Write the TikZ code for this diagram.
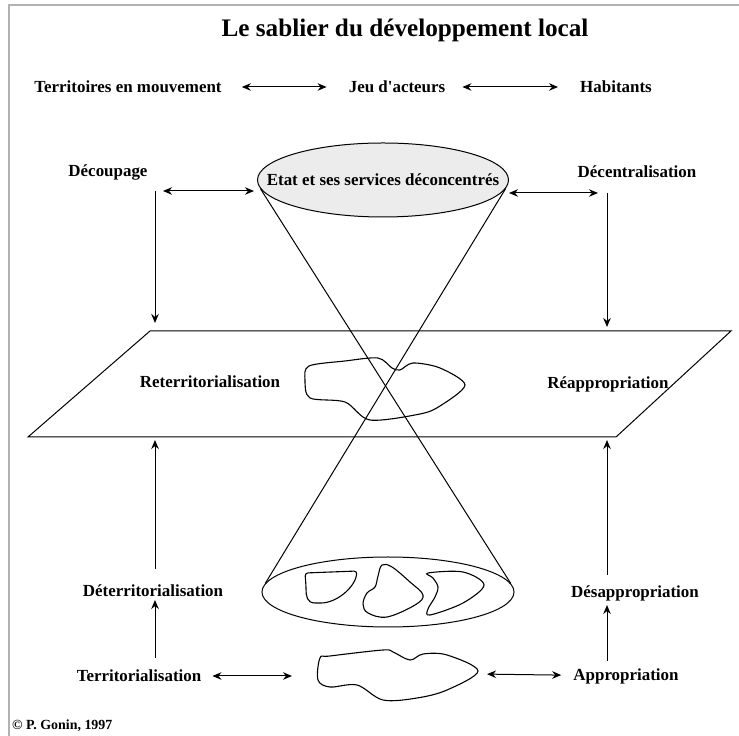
\documentclass[tikz,border=0pt]{standalone}
\usepackage{fontspec}
\setmainfont{Liberation Serif}
\usetikzlibrary{shapes.geometric,arrows.meta}

\begin{document}
\begin{tikzpicture}[lbl/.style={font=\bfseries\fontsize{17}{19}\selectfont,inner sep=2bp},
						arr/.style={-{Stealth[length=9bp,width=7.5bp]},line width=1bp},
						dbl/.style={{Stealth[length=9bp,width=7.5bp]}-{Stealth[length=9bp,width=7.5bp]},line width=1bp},
						blob/.style={line width=1.1bp}]

		\useasboundingbox (0bp,0bp) rectangle (739bp,736bp);
		\draw[gray!60,line width=2bp] (9bp,0bp) -- (9bp,731bp) -- (739bp,731bp);

		\node[font=\bfseries\fontsize{25.3}{29}\selectfont] (titre) at (405.0bp,706.0bp) {Le sablier du développement local};

		\node[lbl] (terr) at (128.0bp,649.0bp) {Territoires en mouvement};
		\node[lbl] (jeu) at (397.0bp,649.0bp) {Jeu d\textquotesingle acteurs};
		\node[lbl] (hab) at (616.0bp,649.0bp) {Habitants};

		\node[lbl] (dec) at (108.0bp,564.0bp) {Découpage};
		\node[lbl] (decen) at (637.0bp,564.0bp) {Décentralisation};
		\node[ellipse,draw,line width=1bp,fill=gray!15,minimum width=251bp,minimum height=74bp,
			font=\bfseries\fontsize{17}{19}\selectfont,inner xsep=-30bp,inner ysep=0bp] (etat) at (383.0bp,556.0bp) {Etat et ses services déconcentrés};
		\coordinate (lcol) at (155.0bp,545.0bp);
		\coordinate (rcol) at (607.0bp,543.0bp);

		\coordinate (p1) at (150.0bp,405.0bp);
		\coordinate (p2) at (731.0bp,405.0bp);
		\coordinate (p3) at (616.0bp,299.0bp);
		\coordinate (p4) at (28.0bp,299.0bp);
		\draw[line width=1bp] (p1) -- (p2) -- (p3) -- (p4) -- cycle;
		\node[lbl] (reterr) at (210.0bp,354.0bp) {Reterritorialisation};
		\node[lbl] (reappr) at (608.0bp,352.0bp) {Réappropriation};

		\node[ellipse,draw,line width=1bp,minimum width=252bp,minimum height=70bp] (sol) at (388.0bp,144.0bp) {};

		\node[lbl] (deter) at (153.0bp,145.0bp) {Déterritorialisation};
		\node[lbl] (desappr) at (635.0bp,143.0bp) {Désappropriation};
		\node[lbl] (terri) at (139.0bp,60.0bp) {Territorialisation};
		\node[lbl] (appr) at (626.0bp,60.0bp) {Appropriation};
		\coordinate (blobw) at (318.0bp,60.0bp);
		\coordinate (blobe) at (478.0bp,62.0bp);

		\node[anchor=west,font=\bfseries\fontsize{14}{16}\selectfont,inner sep=0bp] (copy) at (12.0bp,10.0bp) {© P. Gonin, 1997};

		% territoires dans le plan et en bas
		\draw[blob] plot[smooth cycle,tension=0.5] coordinates {(305bp,356bp) (309bp,370bp) (345bp,375bp) (378bp,378bp) (392bp,368bp) (400bp,366bp) (413bp,373bp) (440bp,368bp) (465bp,351bp) (440bp,330bp) (420bp,322bp) (370bp,316bp) (345bp,334bp) (310bp,338bp)};
		\draw[blob,rounded corners=3bp] (305bp,163bp) -- (357bp,165bp) .. controls (355bp,148bp) and (336bp,133bp) .. (318bp,133bp) .. controls (307bp,133bp) and (306bp,140bp) .. (306bp,150bp) -- cycle;
		\draw[blob] plot[smooth cycle,tension=0.6] coordinates {(382bp,171bp) (392bp,169bp) (410bp,154bp) (423bp,141bp) (415bp,131bp) (387bp,119bp) (368bp,123bp) (363bp,132bp) (367bp,143bp) (375bp,149bp) (378bp,160bp)};
		\draw[blob] plot[smooth cycle,tension=0.55] coordinates {(428bp,163bp) (463bp,164bp) (484bp,151bp) (463bp,133bp) (430bp,121bp) (428bp,127bp) (435bp,139bp) (438bp,149bp) (433bp,158bp)};
		\draw[blob] plot[smooth cycle,tension=0.55] coordinates {(320bp,78bp) (330bp,80bp) (383bp,86bp) (393bp,84bp) (410bp,76bp) (423bp,82bp) (447bp,81bp) (478bp,65bp) (447bp,46bp) (417bp,38bp) (383bp,36bp) (357bp,51bp) (330bp,49bp) (318bp,56bp)};

		% le sablier
		\draw[line width=1bp] (etat.184) -- (sol.4);
		\draw[line width=1bp] (etat.-4) -- (sol.176);

		\draw[dbl,shorten <=18bp,shorten >=20bp] (terr) -- (jeu);
		\draw[dbl,shorten <=15bp,shorten >=20bp] (jeu) -- (hab);
		\draw[dbl,shorten <=8bp,shorten >=3bp] (lcol) -- (etat.west |- lcol);
		\draw[dbl,shorten >=9bp] (etat.east |- rcol) -- (rcol);
		\draw[arr,shorten >=8bp] (lcol) -- (lcol |- p1);
		\draw[arr,shorten >=4bp] (rcol) -- (rcol |- p1);

		\draw[arr,shorten <=22bp,shorten >=3bp] (lcol |- deter) -- (lcol |- p4);
		\draw[arr,shorten <=18bp,shorten >=9bp] (lcol |- terri) -- (lcol |- deter);
		\draw[arr,shorten <=18bp,shorten >=3bp] (rcol |- desappr) -- (rcol |- p3);
		\draw[arr,shorten <=15bp,shorten >=12bp] (rcol |- appr) -- (rcol |- desappr);
		\draw[dbl,shorten <=9bp,shorten >=26bp] (terri) -- (blobw);
		\draw[dbl,shorten <=9bp,shorten >=10bp] (blobe) -- (appr);

	\end{tikzpicture}
\end{document}
